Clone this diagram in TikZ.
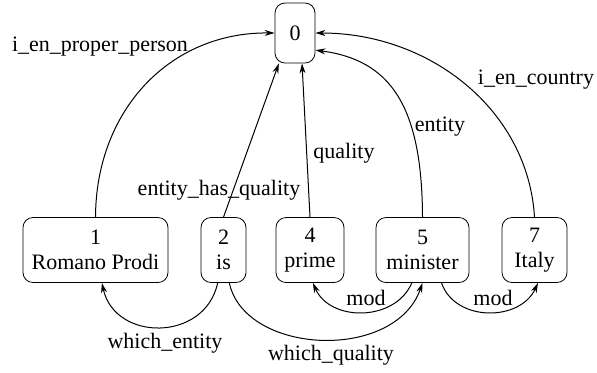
\documentclass[tikz,border=0pt]{standalone}
\usepackage{fontspec}
\setmainfont{Liberation Serif}
\usetikzlibrary{arrows.meta}

\begin{document}
\begin{tikzpicture}[x=0.5pt,y=-0.5pt,
    tok/.style={draw,rounded corners=5pt,align=center,minimum height=32.5pt,inner sep=1pt},
    edge/.style={line width=0.5pt,-{Stealth[length=5pt,width=3pt]}},
    lbl/.style={inner sep=0pt}]
  \useasboundingbox (0,0) rectangle (597,372);
  \tikzset{every node/.append style={font=\fontsize{11}{12.5}\selectfont}}
  % tokens
  \node[tok,minimum width=20pt,minimum height=30pt] (n0) at (295,33) {0};
  \node[tok,minimum width=72.5pt] (n1) at (95.5,250) {1\\Romano Prodi};
  \node[tok,minimum width=22.5pt] (n2) at (223.5,250) {2\\is};
  \node[tok,minimum width=34pt] (n4) at (310,250) {4\\prime};
  \node[tok,minimum width=46.5pt] (n5) at (422.5,250) {5\\minister};
  \node[tok,minimum width=32.5pt] (n7) at (534.5,250) {7\\Italy};
  % arcs to the root
  \draw[edge] (n1.north) .. controls (96,110) and (170,32) .. (n0.west);
  \draw[edge] (n2.north) -- (n0.242);
  \draw[edge] (n4.north) -- (n0.283);
  \draw[edge] (n5.north) .. controls (422,105) and (390,60) .. (n0.320);
  \draw[edge] (n7.north) .. controls (528,110) and (430,33) .. (n0.east);
  % arcs below
  \draw[edge] (n2.-100) .. controls (205,342) and (115,342) .. (n1.281);
  \draw[edge] (n2.-80) .. controls (245,355) and (395,362) .. (n5.south);
  \draw[edge] (n5.252) .. controls (395,322) and (330,322) .. (n4.275);
  \draw[edge] (n5.300) .. controls (455,322) and (520,322) .. (n7.276);
  % labels
  \node[lbl] (l1) at (100,47) {i\_en\_proper\_person};
  \node[lbl] (l2) at (219,190) {entity\_has\_quality};
  \node[lbl] (l4) at (344,153) {quality};
  \node[lbl] (l5) at (440,127) {entity};
  \node[lbl] (l7) at (536,80) {i\_en\_country};
  \node[lbl] (l21) at (165,343) {which\_entity};
  \node[lbl] (l25) at (331,355) {which\_quality};
  \node[lbl] (l54) at (366,298) {mod};
  \node[lbl] (l57) at (493,298) {mod};
\end{tikzpicture}
\end{document}
